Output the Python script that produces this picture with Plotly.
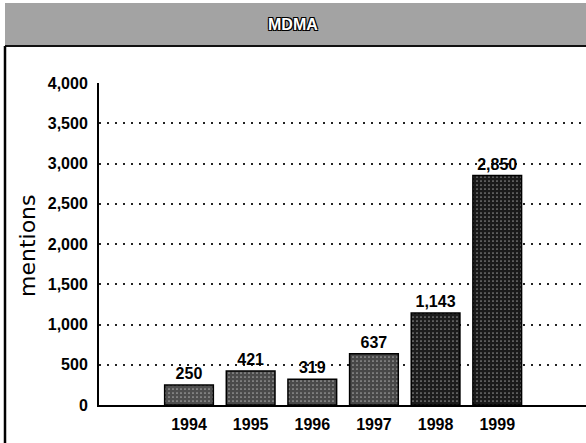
import plotly.graph_objects as go

# ---- data ----
years = [1994, 1995, 1996, 1997, 1998, 1999]
mentions = [250, 421, 319, 637, 1143, 2850]
bar_colors = ["#4e4e4e", "#4a4a4a", "#4a4a4a", "#474747", "#1c1c1c", "#1a1a1a"]
y_ticks = [0, 500, 1000, 1500, 2000, 2500, 3000, 3500, 4000]
title_text = "MDMA"
y_title = "mentions"

W, H = 586, 443
L, R, T, B = 99, 0, 83, 38
PW, PH = W - L - R, H - T - B

def px(x):
    return (x - L) / PW

def py(y):
    return (H - B - y) / PH

FONT = "Liberation Sans, Arial, sans-serif"

fig = go.Figure(go.Bar(
    x=years, y=mentions,
    marker=dict(color=bar_colors, line=dict(color="black", width=1.5),
                pattern=dict(shape=".", fgcolor="#8a8a8a", size=4, solidity=0.15)),
    width=0.79,
    texttemplate="%{y:,}", textposition="outside",
    textfont=dict(family=FONT, size=16, color="black", weight="bold"),
    cliponaxis=False,
))

fig.update_layout(
    width=W, height=H,
    margin=dict(l=L, r=R, t=T, b=B),
    paper_bgcolor="white", plot_bgcolor="white",
    showlegend=False,
    xaxis=dict(
        range=[1992.54, 2000.44], tickmode="array", tickvals=years,
        ticktext=[str(y) for y in years],
        showgrid=False, zeroline=False, showline=True, linecolor="black", linewidth=2,
        ticks="", tickfont=dict(family=FONT, size=16, color="black", weight="bold"),
        ticklabelstandoff=4,
    ),
    yaxis=dict(
        range=[0, 4000], tickmode="array", tickvals=y_ticks,
        ticktext=[f"{v:,}" for v in y_ticks],
        showgrid=True, gridcolor="#222", gridwidth=2, griddash="2px,6px",
        zeroline=False, showline=True, linecolor="black", linewidth=2,
        ticks="", tickfont=dict(family=FONT, size=16, color="black", weight="bold"),
        ticklabelstandoff=6,
    ),
    shapes=[
        dict(type="rect", xref="paper", yref="paper",
             x0=px(5), x1=px(586), y0=py(46), y1=py(3),
             fillcolor="#a3a3a3", line=dict(width=0), layer="above"),
        dict(type="line", xref="paper", yref="paper",
             x0=px(5), x1=px(586), y0=py(46), y1=py(46),
             line=dict(color="#111", width=2)),
        dict(type="line", xref="paper", yref="paper",
             x0=px(5), x1=px(5), y0=py(46), y1=py(443),
             line=dict(color="black", width=2.5)),
    ],
    annotations=[
        dict(text=title_text, xref="paper", yref="paper", x=px(293), y=py(24),
             showarrow=False, xanchor="center", yanchor="middle",
             font=dict(family=FONT, size=16, color="white", weight="bold",
                       shadow="-1px -1px 0 #000, 1px -1px 0 #000, -1px 1px 0 #000, 1px 1px 0 #000")),
        dict(text=y_title, xref="paper", yref="paper", x=px(27), y=py(246),
             showarrow=False, textangle=-90, xanchor="center", yanchor="middle",
             font=dict(family="DejaVu Sans, sans-serif", size=22, color="black")),
    ],
)

fig.write_html("out.html", config={"displayModeBar": False},
               post_script="document.body.style.margin='0';")
